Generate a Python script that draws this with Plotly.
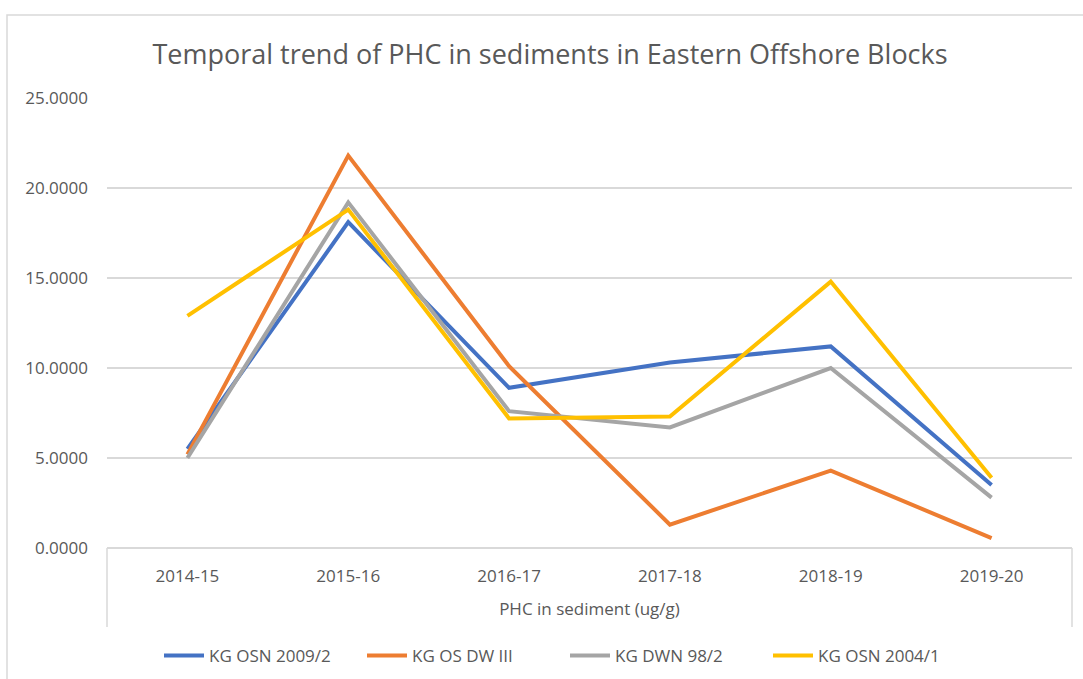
import plotly.graph_objects as go

years = ["2014-15", "2015-16", "2016-17", "2017-18", "2018-19", "2019-20"]
kg_osn_2009_2 = [5.5, 18.1, 8.9, 10.3, 11.2, 3.5]
kg_os_dw_iii = [5.2, 21.8, 10.1, 1.3, 4.3, 0.55]
kg_dwn_98_2 = [5.0, 19.2, 7.6, 6.7, 10.0, 2.8]
kg_osn_2004_1 = [12.9, 18.8, 7.2, 7.3, 14.8, 3.9]

series = [
    ("KG OSN 2009/2", kg_osn_2009_2, "#4472C4"),
    ("KG OS DW III", kg_os_dw_iii, "#ED7D31"),
    ("KG DWN 98/2", kg_dwn_98_2, "#A5A5A5"),
    ("KG OSN 2004/1", kg_osn_2004_1, "#FFC000"),
]

FONT = "Open Sans, DejaVu Sans, sans-serif"
TXT = "#595959"
GRID = "#D9D9D9"

fig = go.Figure()
for name, vals, col in series:
    fig.add_trace(go.Scatter(x=years, y=vals, name=name, mode="lines",
                             line=dict(color=col, width=4)))

fig.update_layout(
    width=1083, height=679,
    margin=dict(l=107, r=11, t=98, b=131, autoexpand=False),
    paper_bgcolor="white", plot_bgcolor="white",
    font=dict(family=FONT, color=TXT, size=17),
    title=dict(text="Temporal trend of PHC in sediments in Eastern Offshore Blocks",
               x=550 / 1083, xref="container", xanchor="center", y=1 - 55 / 679, yanchor="middle",
               font=dict(size=27, color=TXT, family=FONT)),
    showlegend=True,
    legend=dict(orientation="h", x=(565 - 107) / 965, xanchor="center", y=-0.24, yanchor="middle",
                font=dict(size=17, color=TXT), bgcolor="rgba(0,0,0,0)",
                entrywidth=148, itemwidth=40),
    xaxis=dict(type="category", range=[-0.5, 5.5], showgrid=False, showline=False,
               automargin=False,
               ticks="", ticklabelstandoff=16, tickfont=dict(size=17, color=TXT),
               title=dict(text="PHC in sediment (ug/g)", standoff=17,
                          font=dict(size=17, color=TXT))),
    yaxis=dict(range=[0, 25], dtick=5, tickformat=".4f", showgrid=True, gridcolor=GRID,
               automargin=False,
               gridwidth=1.5, zeroline=True, zerolinecolor=GRID, zerolinewidth=1.5,
               showline=False, ticks="", ticklabelstandoff=18,
               tickfont=dict(size=17, color=TXT)),
)

# chart border (top & left visible)
fig.add_shape(type="rect", xref="paper", yref="paper",
              x0=(7 - 107) / 965, x1=(1095 - 107) / 965,
              y0=(548 - 700) / 450, y1=(548 - 15) / 450,
              line=dict(color="#D9D9D9", width=1.5), fillcolor="rgba(0,0,0,0)", layer="below")
# multi-level category separators
for xx in (0, 1):
    fig.add_shape(type="line", xref="paper", yref="paper", x0=xx, x1=xx,
                  y0=0, y1=(548 - 627) / 450, line=dict(color=GRID, width=1.5))

fig.write_html("out.html", config={"displayModeBar": False},
               post_script="document.body.style.margin='0';document.body.style.overflow='hidden';")
